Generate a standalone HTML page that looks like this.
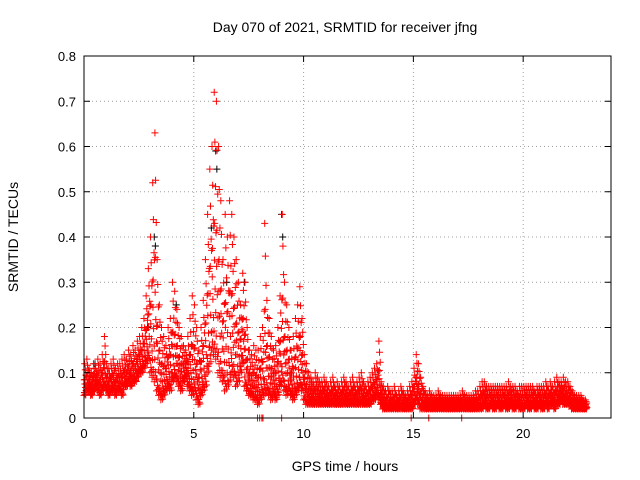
<!DOCTYPE html>
<html><head><meta charset="utf-8"><style>
body{margin:0;background:#fff}
svg{display:block;font-family:"Liberation Sans",sans-serif}
</style></head><body>
<svg id="chart" width="640" height="480">
<rect width="640" height="480" fill="#fff"/>
<text x="345" y="32" font-size="14" text-anchor="middle">Day 070 of 2021, SRMTID for receiver jfng</text>
<text x="18" y="237" font-size="14" text-anchor="middle" transform="rotate(-90 18 237)">SRMTID / TECUs</text>
<text x="345" y="471" font-size="14" text-anchor="middle">GPS time / hours</text>
<g id="grid"></g>
<g id="pts"></g>
<g id="axes"></g>
</svg>
<script>
const xTicks=[0,5,10,15,20];
const yTicks=[0,0.1,0.2,0.3,0.4,0.5,0.6,0.7,0.8];
const yTickLabels=["0","0.1","0.2","0.3","0.4","0.5","0.6","0.7","0.8"];
const binStep=0.1;
const srmtidHi=[.12,.13,.11,.10,.12,.11,.13,.12,.14,.18,
.12,.11,.12,.13,.11,.12,.12,.13,.14,.13,
.15,.14,.16,.15,.17,.18,.20,.22,.27,.33,
.40,.52,.63,.35,.25,.20,.18,.16,.20,.22,
.30,.28,.24,.20,.18,.16,.15,.18,.22,.27,
.25,.20,.15,.20,.26,.35,.45,.55,.60,.72,
.70,.60,.48,.35,.45,.40,.48,.45,.40,.35,
.30,.25,.32,.30,.20,.15,.14,.16,.15,.15,
.18,.20,.43,.26,.22,.18,.15,.16,.20,.27,
.45,.30,.25,.20,.15,.18,.22,.25,.29,.22,
.14,.12,.10,.09,.08,.10,.09,.08,.08,.09,
.08,.07,.08,.09,.07,.08,.07,.08,.09,.08,
.07,.08,.09,.07,.08,.09,.10,.08,.07,.08,
.09,.10,.11,.12,.17,.08,.07,.06,.07,.06,
.06,.07,.05,.06,.07,.06,.05,.06,.07,.08,
.11,.14,.12,.09,.07,.06,.05,.06,.05,.05,
.05,.06,.05,.05,.05,.05,.05,.05,.05,.05,
.05,.05,.06,.05,.05,.05,.05,.05,.06,.06,
.07,.08,.08,.07,.07,.07,.07,.07,.07,.07,
.07,.07,.07,.08,.07,.07,.07,.06,.07,.07,
.07,.07,.07,.07,.07,.06,.07,.07,.07,.07,
.08,.07,.08,.07,.08,.09,.08,.08,.09,.08,
.08,.07,.06,.05,.05,.05,.05,.04,.04];
const srmtidLo=[.05,.06,.06,.05,.06,.07,.06,.05,.06,.07,
.06,.05,.06,.06,.05,.06,.06,.05,.07,.07,
.08,.07,.08,.08,.09,.10,.10,.11,.12,.13,
.10,.09,.08,.06,.05,.04,.05,.06,.07,.06,
.08,.09,.08,.07,.06,.08,.09,.07,.06,.05,
.06,.04,.03,.05,.06,.07,.10,.12,.15,.14,
.13,.10,.09,.08,.06,.07,.08,.10,.09,.07,
.08,.10,.12,.07,.06,.05,.05,.04,.04,.03,
.04,.05,.05,.06,.05,.04,.05,.04,.05,.07,
.08,.06,.05,.06,.05,.04,.05,.06,.07,.06,
.04,.03,.03,.03,.03,.03,.03,.03,.03,.03,
.03,.03,.03,.03,.03,.03,.03,.03,.03,.03,
.03,.03,.03,.03,.03,.03,.03,.03,.03,.03,
.03,.04,.04,.05,.04,.03,.02,.02,.02,.02,
.02,.02,.02,.02,.02,.02,.02,.02,.02,.02,
.03,.04,.03,.02,.02,.02,.02,.02,.02,.02,
.02,.02,.02,.02,.02,.02,.02,.02,.02,.02,
.02,.02,.02,.02,.02,.02,.02,.02,.02,.02,
.02,.02,.03,.02,.02,.03,.02,.02,.03,.02,
.02,.03,.02,.02,.03,.02,.02,.03,.02,.02,
.02,.03,.02,.02,.03,.02,.02,.03,.02,.02,
.03,.02,.03,.03,.02,.03,.03,.04,.03,.03,
.03,.03,.02,.02,.02,.02,.02,.02,.02];
const zeroTimes=[7.9,8.0,8.1,8.15,9.0,14.9,15.7,17.2];
const blackTimes=[0.5,3.2,3.25,5.8,6.0,6.05,6.5,7.3,9.0,9.05,2.9,4.2];
const blackValues=[0.12,0.40,0.38,0.42,0.59,0.55,0.30,0.30,0.45,0.40,0.20,0.25];

const NS="http://www.w3.org/2000/svg";
const L=84,R=611,T=56,B=418;
const xs=t=>L+(t/24)*(R-L);
const ys=v=>B-(v/0.8)*(B-T);
function mk(tag,at,parent){const e=document.createElementNS(NS,tag);for(const k in at)e.setAttribute(k,at[k]);parent.appendChild(e);return e;}
const grid=document.getElementById('grid'),axes=document.getElementById('axes'),pts=document.getElementById('pts');
xTicks.forEach(t=>{
 if(t>0){const g=mk('line',{x1:xs(t),x2:xs(t),y1:T,y2:B,stroke:'#a0a0a0','stroke-dasharray':'1,3'},grid);
 
 }
 mk('line',{x1:xs(t),x2:xs(t),y1:B,y2:B-6,stroke:'#000'},axes);
 mk('line',{x1:xs(t),x2:xs(t),y1:T,y2:T+6,stroke:'#000'},axes);
 const tx=mk('text',{x:xs(t),y:B+20,'font-size':13,'text-anchor':'middle'},axes);tx.textContent=t;
 
 
});
yTicks.forEach((v,i)=>{
 if(v>0&&v<0.8){const g=mk('line',{x1:L,x2:R,y1:ys(v),y2:ys(v),stroke:'#a0a0a0','stroke-dasharray':'1,3'},grid);
 
 }
 mk('line',{x1:L,x2:L+6,y1:ys(v),y2:ys(v),stroke:'#000'},axes);
 mk('line',{x1:R,x2:R-6,y1:ys(v),y2:ys(v),stroke:'#000'},axes);
 const tx=mk('text',{x:L-8,y:ys(v)+5,'font-size':13,'text-anchor':'end'},axes);tx.textContent=yTickLabels[i];
 
 
});
mk('rect',{x:L,y:T,width:R-L,height:B-T,fill:'none',stroke:'#000'},axes);
function plus(t,v,col){
 const x=xs(t),y=ys(v);
 const p=mk('path',{d:`M${x-3.5},${y}h7M${x},${y-3.5}v7`,stroke:col,'stroke-width':1,fill:'none'},pts);
 
 
}
blackTimes.forEach((t,i)=>plus(t,blackValues[i],'#000'));
srmtidHi.forEach((hi,i)=>{
 const lo=srmtidLo[i],t=i*binStep;
 const n=10;
 for(let k=0;k<=n;k++){
  const f=k/n;
  const g=((k*7)%(n+1))/n;
  plus(t+f*binStep, lo+(hi-lo)*g*g,'#f00');
 }
 plus(t+0.05,(lo+hi)/2,'#f00');
});
zeroTimes.forEach(t=>plus(t,0,'#f00'));
</script>
</body></html>
